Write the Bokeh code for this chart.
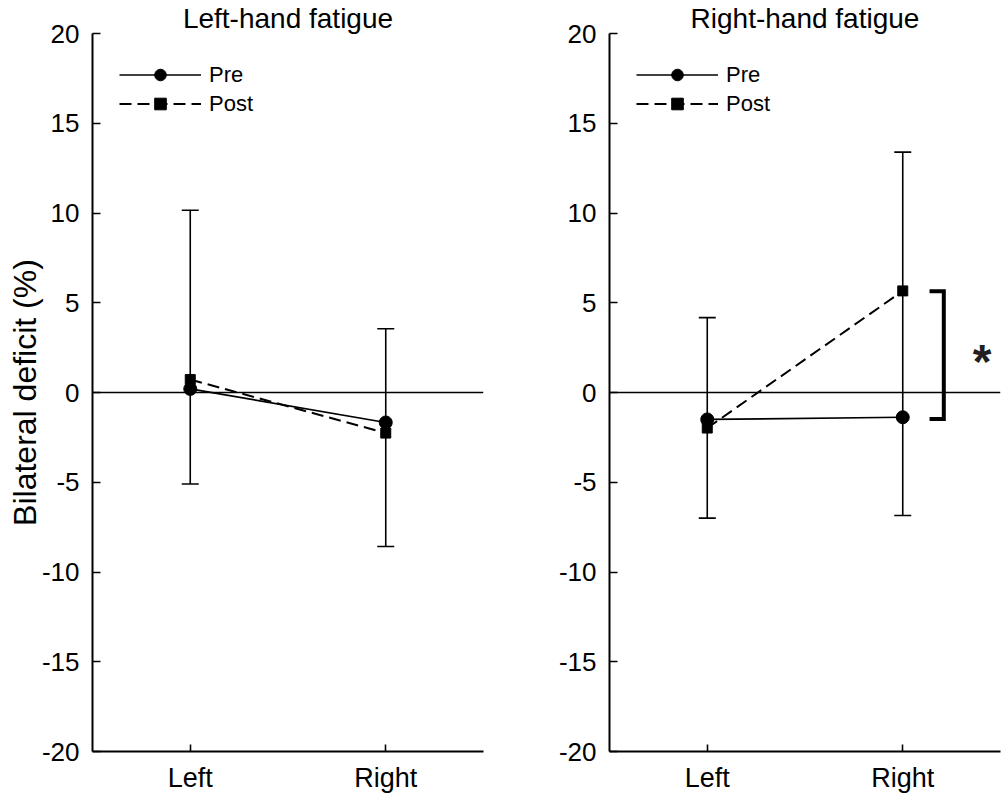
from bokeh.plotting import figure
from bokeh.layouts import row
from bokeh.models import (ColumnDataSource, Whisker, TeeHead, Span, Label,
                          FixedTicker, Legend, LegendItem, Range1d)
from bokeh.embed import file_html
from bokeh.resources import INLINE

# ---- data ----
sides = ["Left", "Right"]
side_pos = [1, 2]
panel_titles = ["Left-hand fatigue", "Right-hand fatigue"]

lh_pre = [0.2, -1.67]
lh_post = [0.72, -2.26]
lh_err_top = [10.15, 3.55]
lh_err_bottom = [-5.1, -8.58]

rh_pre = [-1.5, -1.38]
rh_post = [-1.98, 5.66]
rh_err_top = [4.17, 13.39]
rh_err_bottom = [-7.0, -6.85]

y_ticks = [-20, -15, -10, -5, 0, 5, 10, 15, 20]
y_label = "Bilateral deficit (%)"
series_labels = ["Pre", "Post"]
sig_mark = "*"

FONT = "Liberation Sans"


def make_panel(title, pre, post, err_top, err_bottom, show_ylabel, border_left, border_right):
    frame_w = 391
    p = figure(width=border_left + frame_w + border_right, height=797,
               x_range=Range1d(0.5, 2.5), y_range=Range1d(-20, 20),
               output_backend="svg", toolbar_location=None,
               min_border_left=border_left, min_border_right=border_right,
               min_border_top=33, min_border_bottom=46)
    p.outline_line_color = None
    p.xgrid.visible = False
    p.ygrid.visible = False
    p.background_fill_color = "white"
    p.border_fill_color = "white"

    p.title.text = title
    p.title.align = "center"
    p.title.text_font = FONT
    p.title.text_font_size = "28px"
    p.title.text_font_style = "normal"
    p.title.text_color = "black"
    p.title.standoff = 0

    # axes
    p.xaxis.ticker = FixedTicker(ticks=side_pos)
    p.xaxis.major_label_overrides = {k: v for k, v in zip(side_pos, sides)}
    p.yaxis.ticker = FixedTicker(ticks=y_ticks)
    p.yaxis.major_label_overrides = {t: str(t) for t in y_ticks}
    for ax in (p.xaxis, p.yaxis):
        ax.axis_line_width = 2
        ax.axis_line_color = "black"
        ax.major_tick_line_width = 1.6
        ax.major_tick_line_color = "black"
        ax.major_tick_out = 0
        ax.minor_tick_line_color = None
        ax.major_label_text_font = FONT
        ax.major_label_text_color = "black"
    p.xaxis.major_label_text_font_size = "27px"
    p.yaxis.major_label_text_font_size = "26px"
    p.xaxis.major_tick_in = 7
    p.yaxis.major_tick_in = 8
    p.xaxis.major_label_standoff = 11
    p.yaxis.major_label_standoff = 13
    if show_ylabel:
        p.yaxis.axis_label = y_label
        p.yaxis.axis_label_text_font = FONT
        p.yaxis.axis_label_text_font_size = "32px"
        p.yaxis.axis_label_text_font_style = "normal"
        p.yaxis.axis_label_text_color = "black"
        p.yaxis.axis_label_standoff = -4

    # zero line
    p.add_layout(Span(location=0, dimension="width", line_color="black", line_width=1.6))

    # error bars
    src_err = ColumnDataSource(dict(x=side_pos, upper=err_top, lower=err_bottom))
    w = Whisker(base="x", upper="upper", lower="lower", source=src_err, dimension="height",
                line_color="black", line_width=1.6,
                upper_head=TeeHead(size=17, line_width=1.6, line_color="black"),
                lower_head=TeeHead(size=17, line_width=1.6, line_color="black"))
    p.add_layout(w)

    # series
    src_post = ColumnDataSource(dict(x=side_pos, y=post))
    src_pre = ColumnDataSource(dict(x=side_pos, y=pre))
    l_post = p.line("x", "y", source=src_post, line_color="black", line_width=2, line_dash="12 6")
    s_post = p.scatter("x", "y", source=src_post, marker="square", size=10,
                       fill_color="black", line_color="black")
    l_pre = p.line("x", "y", source=src_pre, line_color="black", line_width=1.7)
    s_pre = p.scatter("x", "y", source=src_pre, marker="circle", size=13,
                      fill_color="black", line_color="black")

    legend = Legend(items=[LegendItem(label=series_labels[0], renderers=[l_pre, s_pre]),
                           LegendItem(label=series_labels[1], renderers=[l_post, s_post])],
                    location="top_left", margin=27, padding=0, spacing=0,
                    glyph_width=82, glyph_height=29, label_height=29,
                    label_standoff=8, label_text_font=FONT, label_text_font_size="22px",
                    label_text_color="black",
                    border_line_color=None, background_fill_alpha=0)
    p.add_layout(legend)
    return p


p1 = make_panel(panel_titles[0], lh_pre, lh_post, lh_err_top, lh_err_bottom, True, 92, 17)
p2 = make_panel(panel_titles[1], rh_pre, rh_post, rh_err_top, rh_err_bottom, False, 109, 6)

# significance bracket on right panel
p2.line([2.137, 2.21, 2.21, 2.137], [rh_post[1] - 0.02, rh_post[1] - 0.02, rh_pre[0] + 0.02, rh_pre[0] + 0.02],
        line_color="black", line_width=4, line_join="miter")
p2.add_layout(Label(x=2.406, y=1.98, y_offset=-5, text=sig_mark, text_align="center",
                    text_baseline="alphabetic", text_font=FONT, text_font_size="48px",
                    text_font_style="bold", text_color="#231f20"))

layout = row(p1, p2)
open("out.html", "w").write(file_html(layout, INLINE))
